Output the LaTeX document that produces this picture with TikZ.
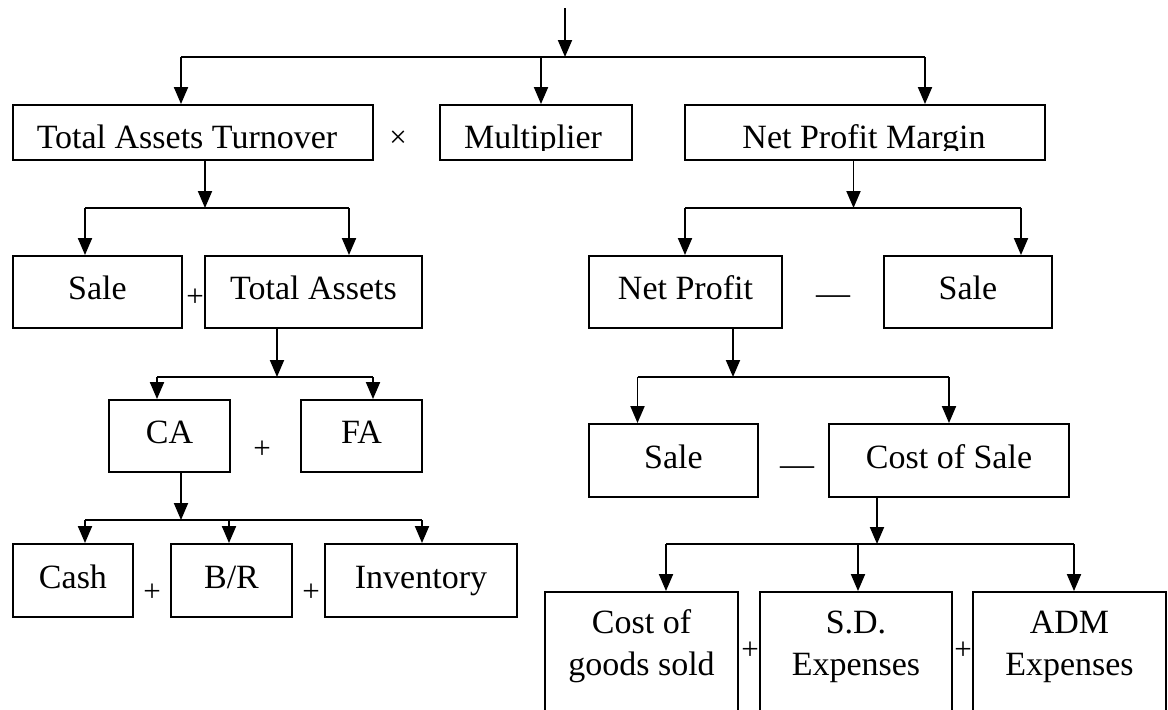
\documentclass[tikz,border=0pt]{standalone}
\usepackage{fontspec}
\setmainfont{Liberation Serif}
\usetikzlibrary{arrows.meta}
\begin{document}
\begin{tikzpicture}[x=0.5pt,y=-0.5pt,
  line width=0.95pt,
  sz/.style 2 args={minimum width=#1*0.5pt, minimum height=#2*0.5pt},
  box/.style={draw, rectangle, inner sep=0pt, font=\fontsize{17}{20}\selectfont, text height=12pt, text depth=4.25pt},
  lbl/.style={inner sep=0pt, font=\fontsize{17}{20}\selectfont, anchor=base},
  op/.style={inner sep=0pt, font=\fontsize{15.5}{18}\selectfont},
  arr/.style={-{Triangle[length=8.5pt,width=7pt]}},
]
\clip (0,0) rectangle (1168,709);
% ---------- row 1 ----------
\node[box, sz={360}{55}] (tat) at (193,132.5) {};
\node[box, sz={192}{55}] (mult) at (536,132.5) {};
\node[box, sz={360}{55}] (npm) at (865,132.5) {};
\begin{scope}
  \clip (0,0) rectangle (1168,150.5);
  \node[lbl] (tatl) at (187,148) {Total Assets Turnover};
  \node[lbl] (multl) at (533,148) {Multiplier};
  \node[lbl] (npml) at (864,148) {Net Profit Margin};
\end{scope}
\node[op] (times1) at (398,139) {×};
\coordinate (top) at (565,8);
\coordinate (j0) at (565,57);
\coordinate (l0) at (181,57);
\coordinate (m0) at (541,57);
\coordinate (r0) at (925,57);
\draw[arr] (top) -- (j0);
\draw (l0) -- (r0);
\draw[arr] (l0) -- (l0 |- tat.north);
\draw[arr] (m0) -- (m0 |- mult.north);
\draw[arr] (r0) -- (r0 |- npm.north);
% ---------- left row 2 ----------
\node[box, sz={169}{72}] (sale1) at (97.5,292) {Sale};
\node[box, sz={217}{72}] (ta) at (313.5,292) {Total Assets};
\node[op] (p1) at (195,298) {+};
\coordinate (j1) at (205,208);
\coordinate (l1) at (85,208);
\coordinate (r1) at (349,208);
\draw[arr] (tat.south -| j1) -- (j1);
\draw (l1) -- (r1);
\draw[arr] (l1) -- (l1 |- sale1.north);
\draw[arr] (r1) -- (r1 |- ta.north);
% ---------- left row 3 ----------
\node[box, sz={121}{72}] (ca) at (169.5,436) {CA};
\node[box, sz={121}{72}] (fa) at (361.5,436) {FA};
\node[op] (p2) at (262,450) {+};
\coordinate (j2) at (277,377);
\coordinate (l2) at (157,377);
\coordinate (r2) at (373,377);
\draw[arr] (ta.south -| j2) -- (j2);
\draw (l2) -- (r2);
\draw[arr] (l2) -- (l2 |- ca.north);
\draw[arr] (r2) -- (r2 |- fa.north);
% ---------- left row 4 ----------
\node[box, sz={120}{73}] (cash) at (73,580.5) {Cash};
\node[box, sz={121}{73}] (br) at (231.5,580.5) {B/R};
\node[box, sz={192}{73}] (inv) at (421,580.5) {Inventory};
\node[op] (p3) at (152,593) {+};
\node[op] (p4) at (311,593) {+};
\coordinate (j3) at (181,520);
\coordinate (l3) at (85,520);
\coordinate (m3) at (229,520);
\coordinate (r3) at (422,520);
\draw[arr] (ca.south -| j3) -- (j3);
\draw (l3) -- (r3);
\draw[arr] (l3) -- (l3 |- cash.north);
\draw[arr] (m3) -- (m3 |- br.north);
\draw[arr] (r3) -- (r3 |- inv.north);
% ---------- right row 2 ----------
\node[box, sz={193}{72}] (np) at (685.5,292) {Net Profit};
\node[box, sz={168}{72}] (sale2) at (968,292) {Sale};
\node[lbl] (d1) at (833,304.6) {—};
\coordinate (j4) at (853.5,208);
\coordinate (l4) at (685,208);
\coordinate (r4) at (1021,208);
\draw[arr] (npm.south -| j4) -- (j4);
\draw (l4) -- (r4);
\draw[arr] (l4) -- (l4 |- np.north);
\draw[arr] (r4) -- (r4 |- sale2.north);
% ---------- right row 3 ----------
\node[box, sz={169}{73}] (sale3) at (673.5,460.5) {Sale};
\node[box, sz={240}{73}] (cos) at (949,460.5) {Cost of Sale};
\node[lbl] (d2) at (797,475.6) {—};
\coordinate (j5) at (733,377);
\coordinate (l5) at (637.5,377);
\coordinate (r5) at (949,377);
\draw[arr] (np.south -| j5) -- (j5);
\draw (l5) -- (r5);
\draw[arr] (l5) -- (l5 |- sale3.north);
\draw[arr] (r5) -- (r5 |- cos.north);
% ---------- right row 4 ----------
\node[box, sz={193}{168}] (cogs) at (641.5,676) {};
\node[box, sz={192}{168}] (sd) at (856,676) {};
\node[box, sz={193}{168}] (adm) at (1069.5,676) {};
\node[lbl] (cogs1) at (641.5,633) {Cost of};
\node[lbl] (cogs2) at (641.5,675) {goods sold};
\node[lbl] (sd1) at (856,633) {S.D.};
\node[lbl] (sd2) at (856,675) {Expenses};
\node[lbl] (adm1) at (1069.5,633) {ADM};
\node[lbl] (adm2) at (1069.5,675) {Expenses};
\node[op] (p5) at (750,651) {+};
\node[op] (p6) at (963,651) {+};
\coordinate (j6) at (877,544);
\coordinate (l6) at (666,544);
\coordinate (m6) at (858,544);
\coordinate (r6) at (1074,544);
\draw[arr] (cos.south -| j6) -- (j6);
\draw (l6) -- (r6);
\draw[arr] (l6) -- (l6 |- cogs.north);
\draw[arr] (m6) -- (m6 |- sd.north);
\draw[arr] (r6) -- (r6 |- adm.north);
\end{tikzpicture}
\end{document}
